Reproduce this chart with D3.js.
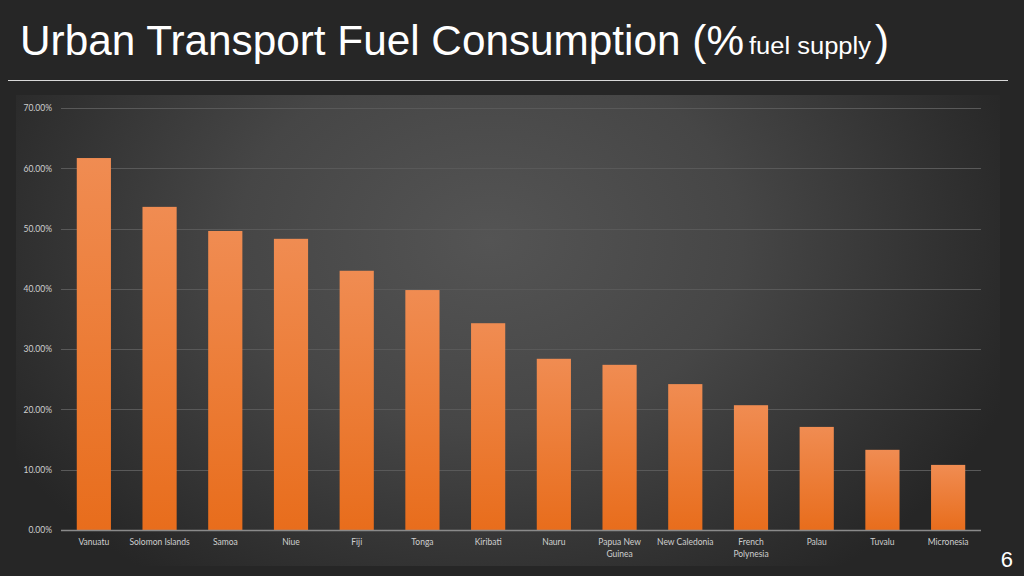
<!DOCTYPE html>
<html><head><meta charset="utf-8">
<script src="https://cdn.jsdelivr.net/npm/d3@7"></script>
<style>
html,body{margin:0;padding:0;background:#262626;}
svg{display:block;}
</style></head>
<body>
<svg id="c" width="1024" height="576"></svg>
<script>
const categories = ["Vanuatu","Solomon Islands","Samoa","Niue","Fiji","Tonga","Kiribati","Nauru","Papua New Guinea","New Caledonia","French Polynesia","Palau","Tuvalu","Micronesia"];
const values = [0.617,0.536,0.496,0.483,0.430,0.398,0.343,0.284,0.274,0.242,0.207,0.171,0.133,0.108];
const yTicks = [0,0.1,0.2,0.3,0.4,0.5,0.6,0.7];
const labelLines = {"Papua New Guinea":["Papua New","Guinea"],"French Polynesia":["French","Polynesia"]};

const svg = d3.select("#c");
const W = 1024, H = 576;
const defs = svg.append("defs");

svg.append("rect").attr("width",W).attr("height",H).attr("fill","#262626");

// plot background radial gradient
const rg = defs.append("radialGradient").attr("id","bg")
  .attr("gradientUnits","userSpaceOnUse").attr("cx",490).attr("cy",240).attr("r",560)
  .attr("gradientTransform","translate(490,240) scale(1,0.75) translate(-490,-240)");
rg.append("stop").attr("offset","0%").attr("stop-color","#545454");
rg.append("stop").attr("offset","45%").attr("stop-color","#464646");
rg.append("stop").attr("offset","100%").attr("stop-color","#262626");
svg.append("rect").attr("x",16).attr("y",95).attr("width",984).attr("height",471).attr("fill","url(#bg)");

// title
const tf = "Liberation Sans, Arial, sans-serif";
svg.append("text").attr("x",20).attr("y",55).attr("font-family",tf).attr("fill","#fff")
  .attr("font-size",42).attr("textLength",724).attr("lengthAdjust","spacingAndGlyphs")
  .text("Urban Transport Fuel Consumption (%");
svg.append("text").attr("x",749).attr("y",54).attr("font-family",tf).attr("fill","#fff")
  .attr("font-size",23).attr("textLength",122).attr("lengthAdjust","spacingAndGlyphs")
  .text("fuel supply");
svg.append("text").attr("x",875).attr("y",55).attr("font-family",tf).attr("fill","#fff")
  .attr("font-size",42).text(")");

svg.append("line").attr("x1",8).attr("x2",1008).attr("y1",80.5).attr("y2",80.5)
  .attr("stroke","#d8d8d8").attr("stroke-width",1.2);

const margin = {left:61, right:981, top:108, bottom:530};
const x = d3.scaleBand().domain(categories).range([margin.left, margin.right]).paddingInner(0.48).paddingOuter(0.24);
const y = d3.scaleLinear().domain([0,0.7]).range([margin.bottom, margin.top]);

// gridlines
svg.append("g").selectAll("line").data(yTicks.filter(d=>d>0)).join("line")
  .attr("x1",margin.left).attr("x2",margin.right)
  .attr("y1",d=>Math.round(y(d))+0.5).attr("y2",d=>Math.round(y(d))+0.5)
  .attr("stroke","#595959").attr("stroke-width",1);

// y axis labels
const yAxis = d3.axisLeft(y).tickValues(yTicks).tickFormat(d3.format(".2%")).tickSize(0).tickPadding(9);
const ya = svg.append("g").attr("transform",`translate(${margin.left},0)`).call(yAxis);
ya.select(".domain").remove();
ya.selectAll("text").attr("font-family","Lato, 'Open Sans', sans-serif").attr("font-size",8.5).attr("fill","#cfcfcf");

// bar gradient
const lg = defs.append("linearGradient").attr("id","bar").attr("x1",0).attr("y1",0).attr("x2",0).attr("y2",1);
lg.append("stop").attr("offset","0%").attr("stop-color","#f08c52");
lg.append("stop").attr("offset","100%").attr("stop-color","#e86d1c");

svg.append("g").selectAll("rect").data(values).join("rect")
  .attr("x",(d,i)=>x(categories[i])).attr("width",x.bandwidth())
  .attr("y",d=>y(d)).attr("height",d=>y(0)-y(d))
  .attr("fill","url(#bar)");

// x axis line
svg.append("line").attr("x1",margin.left).attr("x2",margin.right)
  .attr("y1",y(0)+0.5).attr("y2",y(0)+0.5).attr("stroke","#8a8a8a").attr("stroke-width",1.3);

// x labels
const xa = svg.append("g").attr("transform",`translate(0,${y(0)})`)
  .call(d3.axisBottom(x).tickSize(0).tickPadding(0).tickFormat(""));
xa.select(".domain").remove();
xa.selectAll(".tick").each(function(d){
  const lines = labelLines[d] || [d];
  const t = d3.select(this).append("text").attr("fill","#cfcfcf")
    .attr("font-family","Lato, 'Open Sans', sans-serif").attr("font-size",8.5).attr("text-anchor","middle");
  lines.forEach((l,i)=>t.append("tspan").attr("x",0).attr("y",15+i*12).text(l));
});

// page number
svg.append("text").attr("x",1013).attr("y",567).attr("text-anchor","end")
  .attr("font-family",tf).attr("font-size",22).attr("fill","#ffffff").text("6");
</script>
</body></html>
